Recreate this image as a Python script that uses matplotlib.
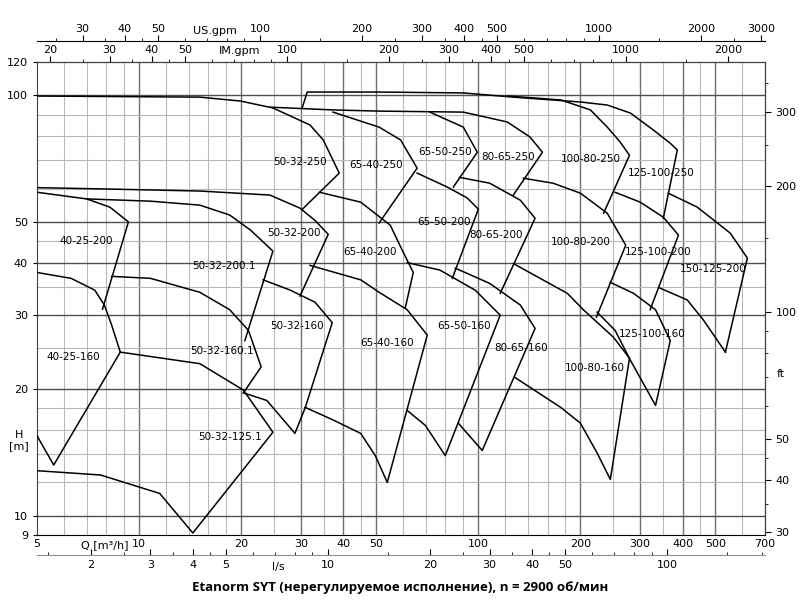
import matplotlib
matplotlib.use("Agg")
import matplotlib.pyplot as plt
from matplotlib.ticker import FixedLocator, NullFormatter, FixedFormatter

# ---- curve data (Q in m3/h, H in m) ----
curves = {
 "s1": ([5, 15.1, 19.9, 24.8, 31.9, 34.9, 38.9, 30.3], [99.6, 99, 96.9, 93.3, 85, 78.3, 65.3, 53.6]),
 "s2": ([24.3, 37.3, 51, 90.3, 121.7, 142, 154.5, 126.8], [93.7, 92.3, 91.7, 91.2, 86.4, 79.6, 73.2, 57.9]),
 "s3": ([37.3, 51, 59, 66, 51], [91.2, 84, 78.3, 67.1, 49.7]),
 "s4": ([72, 90.3, 99.3, 84.4], [91.2, 84, 73.2, 60.5]),
 "s5": ([30.3, 31.3, 51, 90.3, 126.8, 200, 240, 281, 328, 368, 386, 351],
        [93.7, 101.8, 101.8, 101.3, 99, 96.4, 94.8, 90.7, 82.7, 76.9, 74.1, 51]),
 "s6": ([121.7, 175, 214, 240, 262, 279, 234], [99.6, 97.5, 92.3, 84, 77.4, 72, 52.4]),
 "t1": ([5, 7.7, 15.1, 24.3, 29.8, 33, 36.1, 29.8], [60.3, 59.9, 59.2, 57.9, 53.9, 50.4, 46.7, 33.3]),
 "t2": ([5, 7.0, 8.2, 9.3, 7.8], [58.8, 56.7, 54.2, 50, 31.0]),
 "t3": ([7.0, 10.8, 15.1, 18.5, 21.3, 24.8, 20.5], [56.7, 56.0, 54.8, 51.9, 47.8, 42.6, 26.1]),
 "t4": ([34, 45, 55, 59, 64.3, 60.9], [58.8, 55.7, 49.1, 43.6, 37.9, 31.2]),
 "t5": ([66, 81, 92.7, 100, 83.8], [65.3, 60.5, 57.0, 53.6, 36.7]),
 "t6": ([88, 108, 133, 147, 116], [63.8, 61.8, 56.3, 51.0, 33.8]),
 "t7": ([135.8, 166, 200, 240, 272, 223], [63.5, 61.8, 58.5, 52.4, 44.0, 29.7]),
 "t8": ([253, 300, 351, 389, 321], [58.8, 55.7, 51.3, 46.5, 30.9]),
 "t9": ([363, 442, 553, 621, 535], [58.5, 54.2, 47.0, 41.0, 24.5]),
 "u1": ([5, 6.3, 7.4, 7.9, 8.3, 8.8, 5.6, 5], [37.9, 36.7, 34.4, 31.7, 28.4, 24.5, 13.2, 15.5]),
 "u2": ([8.3, 10.8, 15.1, 18.5, 21, 22.9, 20.3], [37.1, 36.7, 34.0, 30.9, 27.6, 22.6, 19.6]),
 "u3": ([23.2, 27.9, 33, 37.1, 30.9], [36.4, 34.4, 32.2, 28.8, 18.1]),
 "u4": ([8.8, 15.1, 20.3, 24.8, 14.4, 11.5, 7.7, 5], [24.5, 23.0, 19.9, 15.8, 9.1, 11.3, 12.5, 12.8]),
 "u5": ([20.3, 23.8, 28.8, 30.9], [19.6, 18.8, 15.7, 18.1]),
 "u6": ([31.9, 45, 51, 61.7, 70.7, 53.9, 49.7, 45, 37.3, 30.9],
        [39.4, 36.4, 34.0, 30.9, 26.9, 12.0, 13.9, 15.7, 16.9, 18.1]),
 "u7": ([61.7, 77, 97.9, 116, 79.9, 69.8, 61.7], [40, 38.4, 34.4, 30, 13.9, 16.4, 17.8]),
 "u8": ([85.5, 108, 133, 147, 102.7, 87.3], [38.8, 35.7, 31.7, 27.9, 14.3, 16.6]),
 "u9": ([126.8, 183, 204, 250, 279, 245, 224, 200, 175, 128.5],
        [39.8, 33.8, 30.9, 26.6, 23.7, 12.2, 14.1, 16.6, 18.1, 21.3]),
 "u10": ([245, 287, 333, 368, 333, 281, 253, 224], [35.9, 33.8, 30.9, 26.1, 18.3, 23.4, 27.6, 30.5]),
 "u11": ([340, 413, 461, 535], [34.9, 32.6, 29.2, 24.5]),
}

labels = ["50-32-250", "65-40-250", "65-50-250", "80-65-250", "100-80-250", "125-100-250",
          "40-25-200", "50-32-200", "50-32-200.1", "65-40-200", "65-50-200", "80-65-200",
          "100-80-200", "125-100-200", "150-125-200", "40-25-160", "50-32-160.1", "50-32-160",
          "65-40-160", "65-50-160", "80-65-160", "100-80-160", "125-100-160", "50-32-125.1"]
label_q = [29.8, 50, 80, 122, 214, 346, 7, 28.6, 17.8, 48, 79, 113, 200, 340, 493,
           6.4, 17.5, 29.3, 54, 91, 134, 220, 325, 18.5]
label_h = [69.4, 68.3, 73.2, 71.3, 70.6, 65.3, 45, 47.0, 39.2, 42.4, 50, 46.5, 44.7, 42.4, 38.6,
           23.9, 24.6, 28.2, 25.8, 28.2, 25, 22.4, 27.1, 15.4]

q_ticks = [5, 10, 20, 30, 40, 50, 100, 200, 300, 400, 500, 700]
h_ticks = [9, 10, 20, 30, 40, 50, 100, 120]
ls_ticks = [2, 3, 4, 5, 10, 20, 30, 40, 50, 100]
ft_ticks = [30, 40, 50, 100, 200, 300]
im_ticks = [20, 30, 40, 50, 100, 200, 300, 400, 500, 1000, 2000]
us_ticks = [30, 40, 50, 100, 200, 300, 400, 500, 1000, 2000, 3000]
q_grid = [6, 7, 8, 9, 12, 14, 16, 18, 25, 35, 45, 60, 70, 80, 90, 120, 140, 160, 180, 250, 350, 450, 600]
q_grid_dark = [10, 20, 30, 40, 50, 100, 200, 300, 400, 500]
h_grid = [12, 14, 16, 18, 25, 35, 45, 60, 70, 80, 90]
h_grid_dark = [10, 20, 30, 40, 50, 100]

plt.rcParams['font.family'] = ['DejaVu Sans']
fig = plt.figure(figsize=(8, 6.1), dpi=100)
ax = fig.add_axes([37/800, 75/610, 728/800, 473/610])
ax.set_xscale('log'); ax.set_yscale('log')
ax.set_xlim(5, 700); ax.set_ylim(9, 120)

for g in q_grid:
    ax.axvline(g, color='#b8b8b8', lw=0.8, zorder=0)
for g in q_grid_dark:
    ax.axvline(g, color='#707070', lw=1.0, zorder=0)
for g in h_grid:
    ax.axhline(g, color='#b8b8b8', lw=0.8, zorder=0)
for g in h_grid_dark:
    ax.axhline(g, color='#505050', lw=1.0, zorder=0)

for k, (q, h) in curves.items():
    ax.plot(q, h, color='black', lw=1.1, zorder=3)
for t, q, h in zip(labels, label_q, label_h):
    ax.text(q, h, t, fontsize=7.5, ha='center', va='center', zorder=4)

ax.xaxis.set_major_locator(FixedLocator(q_ticks))
ax.xaxis.set_major_formatter(FixedFormatter([str(v) for v in q_ticks]))
ax.xaxis.set_minor_locator(FixedLocator([]))
ax.xaxis.set_minor_formatter(NullFormatter())
ax.tick_params(axis='x', which='both', length=0, pad=3, labelsize=8)
ax.yaxis.set_major_locator(FixedLocator(h_ticks))
ax.yaxis.set_major_formatter(FixedFormatter([str(v) for v in h_ticks]))
ax.yaxis.set_minor_locator(FixedLocator([]))
ax.yaxis.set_minor_formatter(NullFormatter())
ax.tick_params(axis='y', which='both', length=3, labelsize=8)
for s in ['top', 'right', 'left']:
    ax.spines[s].set_color('#404040')
ax.text(7.9, 8.5, "Q [m³/h]", fontsize=8, ha='center', va='center')
ax.text(-0.025, 0.2, "H\n[m]", transform=ax.transAxes, fontsize=8, ha='center', va='center')

def style_sec(axis_obj, ticks, minors, which_axis='x'):
    a = axis_obj.xaxis if which_axis == 'x' else axis_obj.yaxis
    a.set_major_locator(FixedLocator(ticks))
    a.set_major_formatter(FixedFormatter([str(v) for v in ticks]))
    a.set_minor_locator(FixedLocator(minors))
    a.set_minor_formatter(NullFormatter())

# l/s axis
sl = ax.secondary_xaxis(-20/473, functions=(lambda q: q/3.6, lambda l: l*3.6))
style_sec(sl, ls_ticks, [1.5, 2.5, 3.5, 4.5, 6, 7, 8, 9, 15, 25, 35, 45, 60, 70, 80, 90, 150, 190])
sl.tick_params(which='major', length=4, labelsize=8, direction='in')
sl.tick_params(which='minor', length=2, direction='in')
sl.spines['bottom'].set_color('#909090')
ax.text(25.7, 7.56, "l/s", fontsize=8, ha='center', va='center')

# ft axis
sf = ax.secondary_yaxis('right', functions=(lambda h: h*3.281, lambda f: f/3.281))
style_sec(sf, ft_ticks, [35, 45, 60, 70, 80, 90, 150, 250, 350], 'y')
sf.tick_params(which='major', length=4, labelsize=8)
sf.tick_params(which='minor', length=2)
ax.text(1.022, 0.34, "ft", transform=ax.transAxes, fontsize=8, ha='center', va='center')

# IM gpm axis
si = ax.secondary_xaxis('top', functions=(lambda q: q*3.666, lambda g: g/3.666))
style_sec(si, im_ticks, [25, 35, 45, 60, 70, 80, 90, 150, 250, 350, 450, 600, 700, 800, 900, 1500])
si.tick_params(which='major', length=4, labelsize=8, pad=1)
si.tick_params(which='minor', length=2)
ax.text((240-37)/728, 1.012, "IM.gpm", transform=ax.transAxes, fontsize=8, ha='center', va='bottom')

# US gpm axis
su = ax.secondary_xaxis(1 + 21/473, functions=(lambda q: q*4.403, lambda g: g/4.403))
style_sec(su, us_ticks, [25, 35, 45, 60, 70, 80, 90, 150, 250, 350, 450, 600, 700, 800, 900, 1500, 2500])
su.tick_params(which='major', length=4, labelsize=8, pad=1)
su.tick_params(which='minor', length=2)
ax.text((215-37)/728, 1.056, "US.gpm", transform=ax.transAxes, fontsize=8, ha='center', va='bottom')

fig.text(0.5, (610-588)/610, "Etanorm SYT (нерегулируемое исполнение), n = 2900 об/мин",
         ha='center', va='center', fontsize=9.5, fontweight='bold', family=['Open Sans', 'DejaVu Sans'])

fig.savefig("out.png", dpi=100, facecolor='white')
